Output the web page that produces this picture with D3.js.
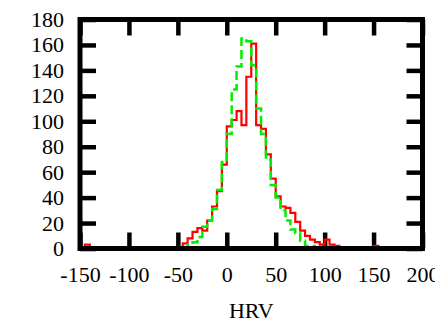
<!DOCTYPE html>
<html>
<head>
<meta charset="utf-8">
<script src="https://cdn.jsdelivr.net/npm/d3@7"></script>
<style>
  body { margin: 0; background: #fff; }
  svg { display: block; }
</style>
</head>
<body>
<script>
// left edges of the 5-wide HRV bins
var binStarts = [-150, -145, -140, -135, -130, -125, -120, -115, -110, -105,
                 -100, -95, -90, -85, -80, -75, -70, -65, -60, -55,
                 -50, -45, -40, -35, -30, -25, -20, -15, -10, -5,
                 0, 5, 10, 15, 20, 25, 30, 35, 40, 45,
                 50, 55, 60, 65, 70, 75, 80, 85, 90, 95,
                 100, 105, 110, 115, 120, 125, 130, 135, 140, 145,
                 150, 155];
var binWidth = 5;

// counts per bin, red (solid) series
var redCounts = [0, 3, 0, 0, 0, 0, 0, 0, 0, 0,
                 0, 0, 0, 0, 0, 0, 1, 1, 0, 1,
                 1, 4, 8, 13, 16, 14, 22, 33, 45, 66,
                 96, 101, 108, 97, 135, 161, 97, 94, 74, 55,
                 41, 33, 32, 28, 21, 14, 10, 7, 5, 3,
                 7, 3, 2, 0, 0, 0, 0, 0, 0, 0,
                 2, 0];

// counts per bin, green (dashed) series
var greenCounts = [0, 0, 0, 0, 0, 0, 0, 0, 0, 0,
                   0, 0, 0, 0, 0, 0, 0, 0, 0, 0,
                   0, 1, 3, 5, 9, 17, 22, 31, 46, 68,
                   90, 125, 143, 165, 163, 144, 110, 90, 70, 50,
                   40, 30, 22, 15, 12, 6, 2, 2, 0, 0,
                   0, 0, 0, 0, 0, 0, 0, 0, 0, 0,
                   0, 0];

var xTicks = [-150, -100, -50, 0, 50, 100, 150, 200];
var yTicks = [0, 20, 40, 60, 80, 100, 120, 140, 160, 180];

var font = '"Liberation Serif", serif';

// set the dimensions and margins of the graph
var margin = {top: 19.5, right: 12.5, bottom: 74.5, left: 80},
    width = 435 - margin.left - margin.right,
    height = 323 - margin.top - margin.bottom;

// set the ranges
var x = d3.scaleLinear().domain([-150, 200]).range([0, width]);
var y = d3.scaleLinear().domain([0, 180]).range([height, 0]);

var svg = d3.select('body')
            .append('svg')
            .attr('width', 435)
            .attr('height', 323)
            .append('g')
            .attr('transform', 'translate(' + margin.left + ',' + margin.top + ')');

var tickLen = 16;
// plain hyphen for negatives, like the original
var plain = function(d) { return String(d); };

// bottom axis with labels, ticks pointing inward
svg.append('g')
    .attr('transform', 'translate(0,' + height + ')')
    .call(d3.axisBottom(x).tickValues(xTicks).tickFormat(plain).tickSizeInner(-tickLen).tickSizeOuter(0).tickPadding(17.5))
    .call(function(g) { g.select('.domain').remove(); });

// top axis, ticks only
svg.append('g')
    .call(d3.axisTop(x).tickValues(xTicks).tickSizeInner(-tickLen).tickSizeOuter(0).tickFormat(''))
    .call(function(g) { g.select('.domain').remove(); });

// left axis with labels
svg.append('g')
    .call(d3.axisLeft(y).tickValues(yTicks).tickFormat(plain).tickSizeInner(-tickLen).tickSizeOuter(0).tickPadding(16))
    .call(function(g) { g.select('.domain').remove(); });

// right axis, ticks only
svg.append('g')
    .attr('transform', 'translate(' + width + ',0)')
    .call(d3.axisRight(y).tickValues(yTicks).tickSizeInner(-tickLen).tickSizeOuter(0).tickFormat(''))
    .call(function(g) { g.select('.domain').remove(); });

svg.selectAll('.tick line')
    .attr('stroke', '#000')
    .attr('stroke-width', 4.5);

svg.selectAll('.tick text')
    .attr('fill', '#000')
    .attr('font-family', font)
    .style('font-family', font)
    .style('font-size', '22px');

// step outline of a histogram
function stepPoints(counts) {
    var pts = binStarts.map(function(b, i) { return [b, counts[i]]; });
    pts.push([binStarts[binStarts.length - 1] + binWidth, 0]);
    return pts;
}

var line = d3.line()
    .x(function(d) { return x(d[0]); })
    .y(function(d) { return y(d[1]); })
    .curve(d3.curveStepAfter);

svg.append('path')
    .datum(stepPoints(redCounts))
    .attr('fill', 'none')
    .attr('stroke', '#ff0000')
    .attr('stroke-width', 2.2)
    .attr('d', line);

svg.append('path')
    .datum(stepPoints(greenCounts))
    .attr('fill', 'none')
    .attr('stroke', '#00ee00')
    .attr('stroke-width', 2.5)
    .attr('stroke-dasharray', '9,4')
    .attr('d', line);

// border drawn on top
svg.append('rect')
    .attr('width', width)
    .attr('height', height)
    .attr('fill', 'none')
    .attr('stroke', '#000')
    .attr('stroke-width', 5);

// x axis title
svg.append('text')
    .attr('x', width / 2)
    .attr('y', height + 69)
    .attr('text-anchor', 'middle')
    .style('font-family', font)
    .style('font-size', '22px')
    .text('HRV');
</script>
</body>
</html>
